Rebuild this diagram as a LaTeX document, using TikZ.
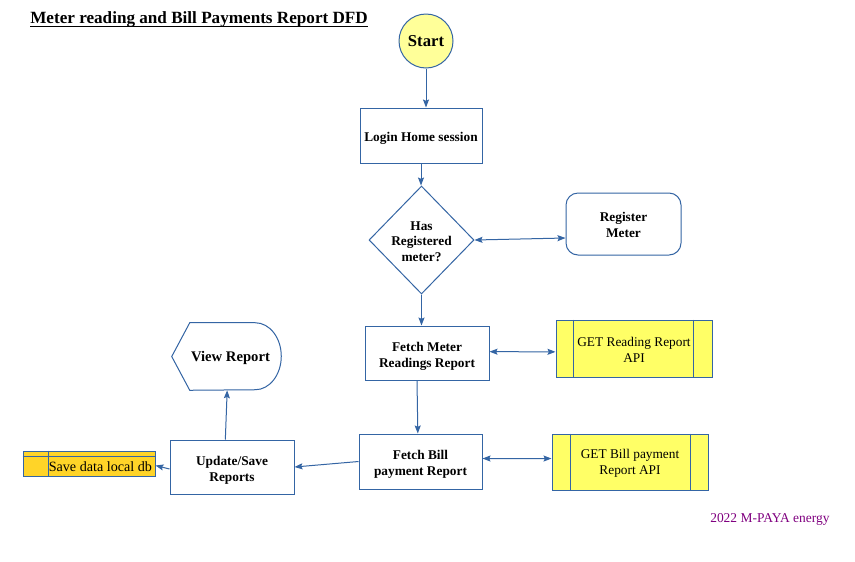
\documentclass[tikz,border=0pt]{standalone}
\usepackage{fontspec}
\setmainfont{Liberation Serif}
\usetikzlibrary{shapes.geometric,arrows.meta,calc}
\definecolor{lineblue}{HTML}{3465A4}
\definecolor{startyellow}{HTML}{FFFF99}
\definecolor{apiyellow}{HTML}{FFFF66}
\definecolor{dbgold}{HTML}{FFD428}
\definecolor{footpurple}{HTML}{800080}
\newcommand{\boxstrut}{\rule{0pt}{11.2pt}}
\newcommand{\apistrut}{\rule{0pt}{8.6pt}}
\tikzset{
  box/.style={draw=lineblue, line width=0.75pt, fill=white, align=center, inner sep=1pt,
    font=\fontsize{10}{12}\selectfont\bfseries},
  apibox/.style={draw=lineblue, line width=0.75pt, fill=apiyellow, align=center, inner sep=1pt,
    font=\fontsize{10}{12}\selectfont},
  conn/.style={draw=lineblue, line width=0.75pt, -{Stealth[length=6pt,width=4.5pt,inset=1pt]}},
  dconn/.style={draw=lineblue, line width=0.75pt, {Stealth[length=6pt,width=4.5pt,inset=1pt]}-{Stealth[length=6pt,width=4.5pt,inset=1pt]}},
  divider/.style={draw=lineblue, line width=0.75pt}
}
\begin{document}
\begin{tikzpicture}[x=0.75pt,y=-0.75pt]
\useasboundingbox[fill=white] (0,0) rectangle (855,561);

% title
\node[anchor=base west, inner sep=0pt, font=\fontsize{12.85}{15}\selectfont\bfseries] (title) at (30,23) {Meter reading and Bill Payments Report DFD};
\draw[line width=1.1pt] ([yshift=-2.8pt]title.base west) -- ([yshift=-2.8pt]title.base east);

% nodes
\node[circle, draw=lineblue, line width=0.75pt, fill=startyellow, minimum size=40.5pt, inner sep=0pt,
  font=\fontsize{12.5}{14}\selectfont\bfseries] (start) at (426,41) {Start};
\node[box, minimum width=91.5pt, minimum height=41.25pt] (login) at (421,135.5) {\boxstrut Login Home session};
\node[diamond, draw=lineblue, line width=0.75pt, fill=white, minimum width=78.75pt, minimum height=81pt, inner sep=0pt] (dia) at (421.5,240) {};
\node[align=center, inner sep=0pt, font=\fontsize{10}{11.6}\selectfont\bfseries] (diatext) at ([yshift=-1pt]dia.center) {Has\\Registered\\meter?};
\node[box, rounded corners=9pt, minimum width=86.25pt, minimum height=46.5pt] (reg) at (623.5,224) {\apistrut Register\\Meter};
\node[box, minimum width=93pt, minimum height=40.5pt] (fm) at (427,353) {\boxstrut Fetch Meter\\Readings Report};
\node[apibox, minimum width=117pt, minimum height=42.75pt] (getr) at (634,348.5) {\apistrut GET Reading Report\\API};
\node[box, minimum width=92.25pt, minimum height=41.25pt] (fb) at (420.5,461.5) {\boxstrut Fetch Bill\\payment Report};
\node[apibox, minimum width=117pt, minimum height=42pt] (getb) at (630,462) {\apistrut GET Bill payment\\Report API};
\node[box, minimum width=93pt, minimum height=40.5pt] (up) at (232,467) {\boxstrut Update/Save\\Reports};
\node[minimum width=81.75pt, minimum height=50.25pt, inner sep=0pt] (view) at (226.5,356.5) {};
\node[draw=lineblue, line width=0.75pt, fill=dbgold, minimum width=99pt, minimum height=18.75pt, inner sep=0pt] (db) at (89,463.5) {};

% API box dividers
\draw[divider] ([xshift=13.5pt]getr.north west) -- ([xshift=13.5pt]getr.south west);
\draw[divider] ([xshift=-14.25pt]getr.north east) -- ([xshift=-14.25pt]getr.south east);
\draw[divider] ([xshift=14.25pt]getb.north west) -- ([xshift=14.25pt]getb.south west);
\draw[divider] ([xshift=-13.5pt]getb.north east) -- ([xshift=-13.5pt]getb.south east);

% view report display shape
\draw[divider, fill=white] (view.west) -- ([xshift=13.5pt]view.north west) -- ([xshift=-19.5pt]view.north east)
  arc[start angle=90, end angle=-90, x radius=19.5pt, y radius=25.125pt]
  -- ([xshift=13.5pt]view.south west) -- cycle;
\node[inner sep=0pt, font=\fontsize{11}{13}\selectfont\bfseries] (viewtext) at ([xshift=3pt,yshift=-1pt]view.center) {View Report};

% database store
\draw[divider] ([yshift=-4.5pt]db.north west) -- ([yshift=-4.5pt]db.north east);
\draw[divider] ([xshift=19.5pt]db.north west) -- ([xshift=19.5pt]db.south west);
\node[anchor=west, inner sep=0pt, font=\fontsize{10.6}{12}\selectfont] (dbtext) at ([xshift=19.5pt,yshift=-2pt]db.west) {Save data local db};

% connectors
\draw[conn] (start.south) -- (start.south |- login.north);
\draw[conn] (login.south) -- (login.south |- dia.north);
\draw[dconn] (dia.east) -- ([yshift=-10.5pt]reg.west);
\draw[conn] (dia.south) -- (dia.south |- fm.north);
\draw[dconn] ([yshift=1pt]fm.east) -- ([yshift=-2.5pt]getr.west);
\draw[conn] ([xshift=-7.5pt]fm.south) -- ([xshift=-2pt]fb.north);
\draw[dconn] ([yshift=2.25pt]fb.east) -- ([yshift=2.6pt]getb.west);
\draw[conn] (fb.west) -- (up.east);
\draw[conn] ([xshift=-5pt]up.north) -- ([xshift=0.5pt]view.south);
\draw[conn] ([yshift=-1.5pt]up.west) -- ([yshift=-1.5pt]db.east);

% footer
\node[anchor=base west, inner sep=0pt, text=footpurple, font=\fontsize{10.1}{12}\selectfont] (footer) at (710,522) {2022 M-PAYA energy};
\end{tikzpicture}
\end{document}
